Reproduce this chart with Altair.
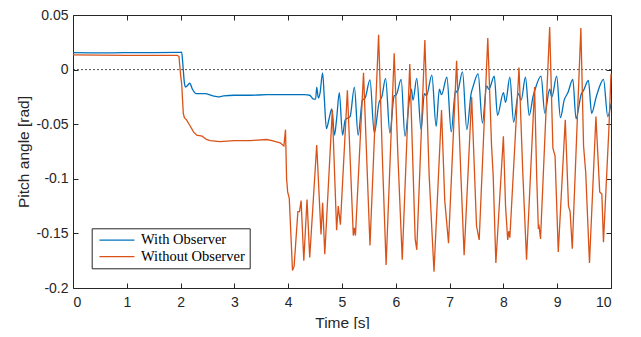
import altair as alt
import pandas as pd

# ---- data ----
series_names = ["With Observer", "Without Observer"]
series_colors = ["#0072BD", "#D95319"]
x_ticks = [0, 1, 2, 3, 4, 5, 6, 7, 8, 9, 10]
y_ticks = [-0.2, -0.15, -0.1, -0.05, 0, 0.05]
zero_line = [0]

blue_t = [0, 0.5, 1.0, 1.5, 1.98, 2.02, 2.04, 2.07, 2.09, 2.12,
          2.17, 2.22, 2.29, 2.45, 2.6, 2.7, 2.8, 3.0, 3.3, 3.6,
          4.0, 4.3, 4.4, 4.47, 4.51, 4.53, 4.56, 4.59, 4.64, 4.67,
          4.71, 4.76, 4.81, 4.86, 4.90, 4.95, 5.01, 5.06, 5.15, 5.23,
          5.30, 5.38, 5.43, 5.52, 5.60, 5.69, 5.74, 5.81, 5.89, 5.97,
          6.01, 6.10, 6.17, 6.26, 6.29, 6.32, 6.39, 6.47, 6.53, 6.57,
          6.67, 6.75, 6.81, 6.85, 6.95, 7.03, 7.11, 7.14, 7.24, 7.32,
          7.40, 7.44, 7.53, 7.61, 7.69, 7.73, 7.83, 7.89, 8.00, 8.04,
          8.12, 8.19, 8.28, 8.33, 8.41, 8.48, 8.55, 8.59, 8.70, 8.77,
          8.86, 8.90, 8.99, 9.06, 9.13, 9.20, 9.29, 9.35, 9.45, 9.48,
          9.58, 9.64, 9.72, 9.77, 9.86, 9.94, 10.0]
blue_y = [0.0155, 0.0153, 0.0155, 0.0155, 0.0157, 0.016, 0.006, -0.012, -0.016, -0.015,
          -0.0125, -0.018, -0.022, -0.022, -0.024, -0.025, -0.024, -0.0235, -0.0235, -0.023,
          -0.023, -0.023, -0.0235, -0.027, -0.027, -0.016, -0.026, -0.022, -0.003, -0.025,
          -0.054, -0.045, -0.036, -0.060, -0.045, -0.021, -0.060, -0.046, -0.043, -0.016,
          -0.060, -0.028, -0.026, -0.0095, -0.058, -0.030, -0.025, -0.008, -0.058, -0.024,
          -0.023, -0.009, -0.061, -0.025, -0.018, -0.028, -0.008, -0.055, -0.022, -0.024,
          -0.005, -0.052, -0.018, -0.023, -0.007, -0.057, -0.019, -0.021, -0.002, -0.055,
          -0.022, -0.015, -0.004, -0.049, -0.015, -0.018, -0.006, -0.042, -0.021, -0.030,
          -0.007, -0.048, -0.022, -0.028, -0.007, -0.042, -0.025, -0.018, -0.006, -0.040,
          -0.018, -0.025, -0.006, -0.044, -0.028, -0.021, -0.009, -0.045, -0.022, -0.020,
          -0.010, -0.040, -0.026, -0.018, -0.009, -0.043, -0.031]

orange_t = [0, 0.5, 1.0, 1.5, 1.94, 1.97, 2.00, 2.02, 2.05, 2.07,
            2.11, 2.17, 2.24, 2.30, 2.40, 2.48, 2.55, 2.73, 3.0, 3.3,
            3.6, 3.7, 3.85, 3.92, 3.95, 3.97, 3.99, 4.02, 4.08, 4.11,
            4.18, 4.21, 4.24, 4.29, 4.35, 4.40, 4.53, 4.61, 4.64, 4.68,
            4.82, 4.90, 4.93, 4.97, 5.10, 5.21, 5.23, 5.25, 5.40, 5.52,
            5.68, 5.75, 5.82, 5.97, 6.04, 6.12, 6.26, 6.36, 6.39, 6.54,
            6.62, 6.71, 6.85, 6.91, 6.98, 7.13, 7.21, 7.27, 7.41, 7.50,
            7.55, 7.71, 7.78, 7.81, 7.86, 8.00, 8.04, 8.08, 8.10, 8.12,
            8.29, 8.36, 8.43, 8.58, 8.62, 8.65, 8.66, 8.69, 8.86, 8.92,
            8.96, 9.02, 9.15, 9.21, 9.24, 9.28, 9.44, 9.49, 9.53, 9.60,
            9.72, 9.79, 9.83, 9.86, 9.96, 10.0]
orange_y = [0.0135, 0.0132, 0.013, 0.013, 0.013, 0.012, -0.005, -0.013, -0.040, -0.044,
            -0.046, -0.051, -0.057, -0.060, -0.061, -0.064, -0.065, -0.066, -0.065, -0.065,
            -0.064, -0.065, -0.067, -0.070, -0.055, -0.100, -0.112, -0.118, -0.184, -0.180,
            -0.130, -0.130, -0.120, -0.175, -0.119, -0.172, -0.069, -0.151, -0.122, -0.169,
            -0.037, -0.147, -0.125, -0.142, -0.019, -0.152, -0.145, -0.152, -0.003, -0.161,
            0.032, -0.080, -0.179, 0.015, -0.080, -0.174, 0.005, -0.155, -0.165, 0.027,
            -0.097, -0.185, -0.037, -0.120, -0.159, 0.008, -0.097, -0.170, -0.025, -0.143,
            -0.156, 0.029, -0.070, -0.097, -0.177, -0.061, -0.125, -0.156, -0.148, -0.154,
            0.002, -0.094, -0.174, -0.016, -0.100, -0.146, -0.142, -0.155, 0.039, -0.072,
            -0.079, -0.167, -0.046, -0.125, -0.130, -0.164, 0.038, -0.070, -0.094, -0.177,
            -0.043, -0.112, -0.114, -0.158, -0.055, -0.004]

blue_df = pd.DataFrame({"t": blue_t, "v": blue_y, "series": series_names[0]})
orange_df = pd.DataFrame({"t": orange_t, "v": orange_y, "series": series_names[1]})
zero_df = pd.DataFrame({"v": zero_line})

AX = "#262626"
SANS = "Liberation Sans"

x_scale = alt.Scale(domain=[0, 10], nice=False, zero=False)
y_scale = alt.Scale(domain=[-0.2, 0.05], nice=False, zero=False)

legend = alt.Legend(
    title=None, orient="none", legendX=18.7, legendY=213.3, direction="vertical",
    strokeColor=AX, fillColor="white", padding=4.5, symbolType="M-1,0H7.75",
    symbolSize=64, symbolStrokeWidth=1.3, labelFont="Liberation Serif",
    labelFontSize=14.5, labelColor="black", labelOffset=30.3, rowPadding=1.5,
    labelLimit=300, cornerRadius=0,
)
color = alt.Color("series:N", scale=alt.Scale(domain=series_names, range=series_colors), legend=legend)

axis_bottom = alt.Axis(
    orient="bottom", values=x_ticks, format="d", offset=-5, tickSize=5, domain=False,
    grid=False, labelPadding=7, title="Time [s]", titlePadding=6, tickColor=AX,
    labelColor=AX, titleColor=AX, labelFontSize=14, titleFontSize=15.5, labelFont=SANS,
    titleFont=SANS, titleFontWeight="normal", labelOverlap=False,
)
axis_left = alt.Axis(
    orient="left", values=y_ticks, labelExpr="'' + datum.value", offset=-5, tickSize=5,
    domain=False, grid=False, labelPadding=5, title="Pitch angle [rad]", titlePadding=5,
    tickColor=AX, labelColor=AX, titleColor=AX, labelFontSize=14, titleFontSize=15.5,
    labelFont=SANS, titleFont=SANS, titleFontWeight="normal", labelOverlap=False,
)
axis_top = alt.Axis(orient="top", values=x_ticks, offset=-5, tickSize=5, domain=False,
                    grid=False, labels=False, title=None, tickColor=AX)
axis_right = alt.Axis(orient="right", values=y_ticks, offset=-5, tickSize=5, domain=False,
                      grid=False, labels=False, title=None, tickColor=AX)

zero_rule = alt.Chart(zero_df).mark_rule(strokeDash=[2, 2], strokeWidth=0.8, color=AX).encode(
    y=alt.Y("v:Q", scale=y_scale, axis=None)
)

blue_line = alt.Chart(blue_df).mark_line(interpolate="monotone", strokeWidth=1.3).encode(
    x=alt.X("t:Q", scale=x_scale, axis=axis_bottom),
    y=alt.Y("v:Q", scale=y_scale, axis=axis_left),
    color=color,
)

orange_line = alt.Chart(orange_df).mark_line(strokeWidth=1.3).encode(
    x=alt.X("t:Q", scale=x_scale, axis=axis_top),
    y=alt.Y("v:Q", scale=y_scale, axis=axis_right),
    color=color,
)

chart = (
    alt.layer(zero_rule, blue_line, orange_line)
    .resolve_axis(x="independent", y="independent")
    .properties(
        width=538, height=273,
        autosize=alt.AutoSizeParams(type="none"),
        padding={"left": 65, "top": 7, "right": 22, "bottom": 41},
        background="white",
    )
    .configure_view(stroke=AX, strokeWidth=1)
)

chart.save("out.html", embed_options={"renderer": "svg", "actions": False})
